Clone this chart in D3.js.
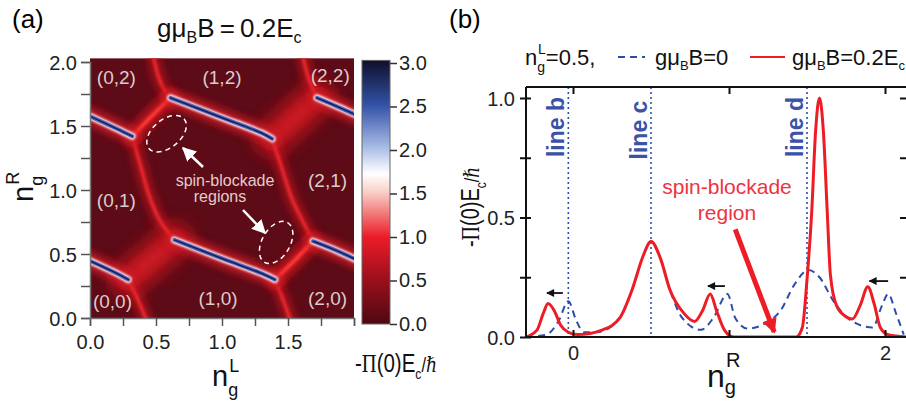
<!DOCTYPE html>
<html lang="en">
<head>
<meta charset="UTF-8">
<title>Spin blockade</title>
<script src="https://d3js.org/d3.v7.min.js"></script>
<style>
  body { margin: 0; background: #fff; }
  text { font-family: "Liberation Sans", Arial, sans-serif; }
  .serif { font-family: "Liberation Serif", "DejaVu Serif", serif; }
</style>
</head>
<body>
<svg width="906" height="401"></svg>
<script>
// ---------- panel (b) data: [n_g^R, -Pi(0)Ec/hbar] ----------
const redCurve = [
  [-0.30, 0.0], [-0.23, 0.03], [-0.19, 0.10], [-0.16, 0.14], [-0.12, 0.11], [-0.08, 0.05],
  [-0.03, 0.02], [0.03, 0.01], [0.19, 0.03], [0.30, 0.08], [0.38, 0.20], [0.45, 0.34],
  [0.50, 0.40], [0.56, 0.33], [0.62, 0.20], [0.71, 0.10], [0.78, 0.065], [0.83, 0.11],
  [0.88, 0.18], [0.92, 0.11], [0.97, 0.03], [1.03, 0.0], [1.43, 0.0], [1.47, 0.04],
  [1.50, 0.24], [1.53, 0.52], [1.555, 0.86], [1.58, 1.0], [1.605, 0.86], [1.63, 0.52],
  [1.65, 0.26], [1.69, 0.13], [1.75, 0.085], [1.79, 0.075], [1.84, 0.13], [1.89, 0.21],
  [1.93, 0.14], [1.97, 0.04], [2.02, 0.01], [2.14, 0.0]
];
const blueCurve = [
  [-0.30, 0.0], [-0.17, 0.01], [-0.09, 0.07], [-0.03, 0.15], [0.02, 0.07], [0.07, 0.02],
  [0.15, 0.02], [0.30, 0.08], [0.38, 0.20], [0.45, 0.34], [0.50, 0.40], [0.56, 0.33],
  [0.62, 0.20], [0.70, 0.08], [0.82, 0.03], [0.90, 0.08], [0.99, 0.18], [1.04, 0.08],
  [1.12, 0.035], [1.24, 0.06], [1.33, 0.11], [1.42, 0.22], [1.51, 0.28], [1.58, 0.25],
  [1.67, 0.15], [1.78, 0.07], [1.92, 0.04], [1.98, 0.13], [2.02, 0.18], [2.07, 0.10],
  [2.12, 0.01]
];
const markerLines = [["line b", -0.03], ["line c", 0.5], ["line d", 1.5]];
const shiftArrows = [[-0.065, -0.167, 0.184], [0.974, 0.865, 0.213], [2.02, 1.90, 0.234]];
const blockadeArrow = [[1.04, 0.45], [1.29, 0.02]];
const bXTicks = [0, 1, 2];
const bYTicks = [0, 0.25, 0.5, 0.75, 1];

// ---------- panel (a) data: ridges in (n_g^L, n_g^R) ----------
const blueRidges = [
  [[-0.05, 1.60], [0.20, 1.48], [0.32, 1.42]],
  [[0.61, 1.72], [1.0, 1.565], [1.30, 1.445], [1.38, 1.40]],
  [[1.72, 1.72], [1.9, 1.64], [2.05, 1.57]],
  [[-0.05, 0.47], [0.18, 0.36], [0.29, 0.30]],
  [[0.64, 0.61], [1.0, 0.465], [1.32, 0.34], [1.40, 0.30]],
  [[1.69, 0.60], [1.86, 0.53], [2.05, 0.44]]
];
const edgeRidges = [
  [[0.47, 2.1], [0.52, 1.88], [0.57, 1.77], [0.61, 1.72]],
  [[0.32, 1.42], [0.38, 1.20], [0.45, 0.95], [0.53, 0.76], [0.64, 0.61]],
  [[0.29, 0.30], [0.36, 0.15], [0.44, -0.05]],
  [[1.72, 1.72], [1.66, 1.86], [1.60, 2.1]],
  [[1.38, 1.40], [1.45, 1.18], [1.53, 0.93], [1.61, 0.76], [1.69, 0.60]],
  [[1.40, 0.30], [1.46, 0.15], [1.53, -0.05]]
];
const brightRidges = [
  [[0.32, 1.42], [0.46, 1.57], [0.61, 1.72]],
  [[1.40, 0.30], [1.55, 0.45], [1.69, 0.60]]
];
const softRidges = [
  [[1.38, 1.40], [1.55, 1.56], [1.72, 1.72]],
  [[0.29, 0.30], [0.46, 0.45], [0.64, 0.61]]
];
const chargeLabels = [
  ["(0,2)", 0.20, 1.88], ["(1,2)", 1.0, 1.88], ["(2,2)", 1.82, 1.90],
  ["(0,1)", 0.20, 0.92], ["(2,1)", 1.80, 1.08],
  ["(0,0)", 0.17, 0.13], ["(1,0)", 0.97, 0.16], ["(2,0)", 1.80, 0.16]
];
const blockadeRings = [[0.58, 1.44, -40], [1.41, 0.59, -60]];
const aTicks = [0, 0.25, 0.5, 0.75, 1, 1.25, 1.5, 1.75, 2];
const cbTicks = [0, 0.5, 1, 1.5, 2, 2.5, 3];
const cbStops = [
  [0, "#4e0812"], [0.17, "#9c0f1c"], [0.33, "#ec1c28"], [0.5, "#f8cfc6"],
  [0.57, "#ffffff"], [0.67, "#a9bce6"], [0.83, "#3352a6"], [1, "#0f0f2a"]
];

const svg = d3.select("svg");
const defs = svg.append("defs");
function blur(id, sd) {
  defs.append("filter").attr("id", id).attr("filterUnits", "userSpaceOnUse")
    .attr("x", 0).attr("y", 0).attr("width", 906).attr("height", 401)
    .append("feGaussianBlur").attr("stdDeviation", sd);
}
blur("b1", 0.8); blur("b2", 2); blur("b4", 4); blur("b8", 8);

function arrowHead(id, color, w, h) {
  defs.append("marker").attr("id", id).attr("viewBox", "0 0 10 10")
    .attr("refX", 9).attr("refY", 5).attr("markerUnits", "userSpaceOnUse")
    .attr("markerWidth", w).attr("markerHeight", h).attr("orient", "auto")
    .append("path").attr("d", "M0,0L10,5L0,10Z").attr("fill", color);
}
arrowHead("ahWhite", "#fff", 14, 14);
arrowHead("ahBlack", "#111", 9, 8);
arrowHead("ahRed", "#ee1c25", 18, 15);

// ================= panel (a) =================
const xA = d3.scaleLinear([0, 2], [90, 354]);
const yA = d3.scaleLinear([0, 2], [318, 62]);
const ridge = d3.line().x(d => xA(d[0])).y(d => yA(d[1])).curve(d3.curveCatmullRom);

defs.append("clipPath").attr("id", "clipA").append("rect")
  .attr("x", xA(0)).attr("y", yA(2.03)).attr("width", xA(2) - xA(0)).attr("height", yA(0) - yA(2.03));

const heat = svg.append("g").attr("clip-path", "url(#clipA)");
heat.append("rect").attr("x", xA(0)).attr("y", yA(2.03))
  .attr("width", xA(2) - xA(0)).attr("height", yA(0) - yA(2.03)).attr("fill", "#5c0b17");

function strokes(data, color, width, filter, opacity) {
  heat.append("g").selectAll("path").data(data).join("path")
    .attr("d", ridge).attr("fill", "none").attr("stroke", color)
    .attr("stroke-width", width).attr("stroke-linecap", "round")
    .attr("opacity", opacity === undefined ? 1 : opacity)
    .attr("filter", filter ? `url(#${filter})` : null);
}
strokes(softRidges, "#b8161f", 36, "b8", 0.95);
strokes(softRidges, "#d41f29", 14, "b4", 0.7);
strokes(edgeRidges, "#b3121e", 13, "b4", 0.75);
strokes(edgeRidges, "#e8222c", 4, "b2", 0.6);
strokes(edgeRidges, "#f32a33", 2.2, "b1");
strokes(brightRidges, "#c8161f", 16, "b4", 0.9);
strokes(brightRidges, "#ff3838", 4, "b1");
strokes(blueRidges, "#d41e28", 16, "b4", 0.9);
strokes(blueRidges, "#fbe4e6", 7, "b1");
strokes(blueRidges, "#4d68c2", 4, null);
strokes(blueRidges, "#1b1b58", 1.5, null);

heat.append("g").selectAll("text").data(chargeLabels).join("text")
  .attr("x", d => xA(d[1])).attr("y", d => yA(d[2]) + 7)
  .attr("text-anchor", "middle").attr("font-size", 19).attr("fill", "#dccbcb")
  .text(d => d[0]);

heat.append("g").selectAll("ellipse").data(blockadeRings).join("ellipse")
  .attr("cx", 0).attr("cy", 0).attr("rx", 23).attr("ry", 14)
  .attr("transform", d => `translate(${xA(d[0])},${yA(d[1])}) rotate(${d[2]})`)
  .attr("fill", "none").attr("stroke", "#fff").attr("stroke-width", 1.5)
  .attr("stroke-dasharray", "5,4");

heat.append("line").attr("x1", 203).attr("y1", 167).attr("x2", 183).attr("y2", 148)
  .attr("stroke", "#fff").attr("stroke-width", 2.5).attr("marker-end", "url(#ahWhite)");
heat.append("line").attr("x1", 243).attr("y1", 210).attr("x2", 265).attr("y2", 233)
  .attr("stroke", "#fff").attr("stroke-width", 2.5).attr("marker-end", "url(#ahWhite)");
heat.append("text").attr("x", 225).attr("y", 186).attr("text-anchor", "middle")
  .attr("font-size", 16).attr("fill", "#e2cccc").text("spin-blockade");
heat.append("text").attr("x", 220).attr("y", 202).attr("text-anchor", "middle")
  .attr("font-size", 16).attr("fill", "#e2cccc").text("regions");

// axes (a)
const fmt1 = d3.format(".1f");
const axA = svg.append("g").attr("transform", `translate(0,${yA(0)})`)
  .call(d3.axisBottom(xA).tickValues(aTicks).tickSize(8)
    .tickFormat(d => (d % 0.5 === 0 && d < 2) ? fmt1(d) : ""));
const ayA = svg.append("g").attr("transform", `translate(${xA(0)},0)`)
  .call(d3.axisLeft(yA).tickValues(aTicks).tickSize(9)
    .tickFormat(d => d % 0.5 === 0 ? fmt1(d) : ""));
[axA, ayA].forEach(g => {
  g.select(".domain").attr("stroke", "#777").attr("stroke-width", 1.5);
  g.selectAll(".tick line").attr("stroke", "#555").attr("stroke-width", 1.5);
  g.selectAll("text").attr("font-size", 20).attr("fill", "#222")
    .attr("font-family", "Liberation Sans, Arial, sans-serif");
});
axA.selectAll("text").attr("dy", "1.0em");
ayA.selectAll("text").attr("dx", "-1px").attr("dy", "0.36em");

// colorbar
const yC = d3.scaleLinear([0, 3], [324, 63]);
const grad = defs.append("linearGradient").attr("id", "cb")
  .attr("x1", 0).attr("y1", 1).attr("x2", 0).attr("y2", 0);
grad.selectAll("stop").data(cbStops).join("stop")
  .attr("offset", d => d[0]).attr("stop-color", d => d[1]);
svg.append("rect").attr("x", 362).attr("y", yC(3.03)).attr("width", 28)
  .attr("height", yC(0) - yC(3.03)).attr("fill", "url(#cb)")
  .attr("stroke", "#666").attr("stroke-width", 1);
const cAx = svg.append("g").attr("transform", "translate(390,0)")
  .call(d3.axisRight(yC).tickValues(cbTicks).tickSize(7).tickFormat(fmt1));
cAx.select(".domain").remove();
cAx.selectAll(".tick line").attr("stroke", "#333").attr("stroke-width", 1.5);
cAx.selectAll("text").attr("font-size", 20).attr("fill", "#222").attr("dx", "-1px")
  .attr("font-family", "Liberation Sans, Arial, sans-serif");

// labels (a)
svg.append("text").attr("x", 12).attr("y", 28).attr("font-size", 26).text("(a)");
const ttl = svg.append("text").attr("x", 157).attr("y", 37).attr("font-size", 26).attr("fill", "#111");
ttl.append("tspan").text("gμ");
ttl.append("tspan").attr("font-size", 16).attr("dy", 6).text("B");
ttl.append("tspan").attr("dy", -6).text("B\u2009=\u20090.2E");
ttl.append("tspan").attr("font-size", 16).attr("dy", 6).text("c");

const xl = svg.append("text").attr("x", 212).attr("y", 386).attr("font-size", 29).attr("fill", "#111");
xl.append("tspan").text("n");
xl.append("tspan").attr("font-size", 18).attr("dy", 10).text("g");
xl.append("tspan").attr("font-size", 18).attr("dx", -9).attr("dy", -24).text("L");

const yl = svg.append("text").attr("transform", "translate(33,202) rotate(-90)")
  .attr("font-size", 29).attr("fill", "#111");
yl.append("tspan").text("n");
yl.append("tspan").attr("font-size", 18).attr("dy", 10).text("g");
yl.append("tspan").attr("font-size", 18).attr("dx", -9).attr("dy", -24).text("R");

const cl = svg.append("text").attr("transform", "translate(355,372) scale(0.82,1)")
  .attr("font-size", 25).attr("fill", "#111");
cl.append("tspan").text("-");
cl.append("tspan").attr("class", "serif").text("Π");
cl.append("tspan").text("(0)E");
cl.append("tspan").attr("font-size", 15).attr("dy", 7).text("c");
cl.append("tspan").attr("dy", -7).attr("font-size", 20).text("/");
cl.append("tspan").attr("class", "serif").attr("font-style", "italic").attr("font-size", 21).text("ℏ");

// ================= panel (b) =================
const xB = d3.scaleLinear([0, 2], [573, 885]);
const yB = d3.scaleLinear([0, 1], [337, 98]);
const bL = 526, bR = 906, bT = 87;

defs.append("clipPath").attr("id", "clipB").append("rect")
  .attr("x", bL).attr("y", bT).attr("width", bR - bL).attr("height", yB(0) - bT);
const plotB = svg.append("g").attr("clip-path", "url(#clipB)");

plotB.selectAll("line.mark").data(markerLines).join("line")
  .attr("x1", d => xB(d[1])).attr("x2", d => xB(d[1]))
  .attr("y1", bT).attr("y2", yB(0))
  .attr("stroke", "#2f4fae").attr("stroke-width", 1.6).attr("stroke-dasharray", "2,3");

const curve = d3.line().x(d => xB(d[0])).y(d => yB(d[1])).curve(d3.curveMonotoneX);
plotB.append("path").datum(blueCurve).attr("d", curve).attr("fill", "none")
  .attr("stroke", "#2d4ea8").attr("stroke-width", 2).attr("stroke-dasharray", "7,5");
plotB.append("path").datum(redCurve).attr("d", curve).attr("fill", "none")
  .attr("stroke", "#ee1c25").attr("stroke-width", 3);

plotB.selectAll("line.shift").data(shiftArrows).join("line")
  .attr("x1", d => xB(d[0])).attr("x2", d => xB(d[1]))
  .attr("y1", d => yB(d[2])).attr("y2", d => yB(d[2]))
  .attr("stroke", "#111").attr("stroke-width", 1.8).attr("marker-end", "url(#ahBlack)");

plotB.append("line")
  .attr("x1", xB(blockadeArrow[0][0])).attr("y1", yB(blockadeArrow[0][1]))
  .attr("x2", xB(blockadeArrow[1][0])).attr("y2", yB(blockadeArrow[1][1]))
  .attr("stroke", "#ee1c25").attr("stroke-width", 5).attr("marker-end", "url(#ahRed)");

plotB.selectAll("text.mk").data(markerLines).join("text")
  .attr("transform", d => `translate(${xB(d[1]) - 4},${d[0] === "line c" ? 130 : 127}) rotate(-90)`)
  .attr("text-anchor", "middle").attr("font-size", 23).attr("font-weight", "bold")
  .attr("fill", "#3a52a8").text(d => d[0]);

plotB.append("text").attr("x", 727).attr("y", 194).attr("text-anchor", "middle")
  .attr("font-size", 21).attr("fill", "#ef3340").text("spin-blockade");
plotB.append("text").attr("x", 727).attr("y", 220).attr("text-anchor", "middle")
  .attr("font-size", 21).attr("fill", "#ef3340").text("region");

// frame + axes (b)
const frame = svg.append("g").attr("stroke", "#111").attr("stroke-width", 2);
frame.append("line").attr("x1", bL).attr("x2", bL).attr("y1", bT).attr("y2", yB(0) + 1);
frame.append("line").attr("x1", bL).attr("x2", bR).attr("y1", bT).attr("y2", bT);
frame.append("line").attr("x1", bL).attr("x2", bR).attr("y1", yB(0)).attr("y2", yB(0));

const bx = svg.append("g").attr("transform", `translate(0,${yB(0)})`)
  .call(d3.axisBottom(xB).tickValues(bXTicks).tickSize(-7).tickFormat(d => d === 1 ? "" : d));
const bt = svg.append("g").attr("transform", `translate(0,${bT})`)
  .call(d3.axisTop(xB).tickValues(bXTicks).tickSize(-7).tickFormat(""));
const by = svg.append("g").attr("transform", `translate(${bL},0)`)
  .call(d3.axisLeft(yB).tickValues(bYTicks).tickSize(6)
    .tickFormat(d => d % 0.5 === 0 ? fmt1(d) : ""));
const br = svg.append("g").attr("transform", `translate(${bR},0)`)
  .call(d3.axisRight(yB).tickValues(bYTicks.slice(1)).tickSize(-6).tickFormat(""));
[bx, bt, by, br].forEach(g => {
  g.select(".domain").remove();
  g.selectAll(".tick line").attr("stroke", "#111").attr("stroke-width", 2);
  g.selectAll("text").attr("font-size", 20).attr("fill", "#222")
    .attr("font-family", "Liberation Sans, Arial, sans-serif");
});
by.selectAll(".tick line").attr("x1", 5);
bx.selectAll("text").attr("dy", "1.0em");
by.selectAll("text").attr("dx", "-2px").attr("dy", "0.36em");

svg.append("text").attr("x", 449).attr("y", 28).attr("font-size", 26).text("(b)");

// legend (b)
const lg = svg.append("text").attr("x", 525).attr("y", 65).attr("font-size", 22).attr("fill", "#111");
lg.append("tspan").text("n");
lg.append("tspan").attr("font-size", 14).attr("dy", 7).text("g");
lg.append("tspan").attr("font-size", 14).attr("dx", -7).attr("dy", -18).text("L");
lg.append("tspan").attr("dy", 11).text("=0.5,");
svg.append("line").attr("x1", 618).attr("x2", 645).attr("y1", 57).attr("y2", 57)
  .attr("stroke", "#2d4ea8").attr("stroke-width", 2).attr("stroke-dasharray", "7,5");
svg.append("line").attr("x1", 750).attr("x2", 785).attr("y1", 57).attr("y2", 57)
  .attr("stroke", "#ee1c25").attr("stroke-width", 2);
function gmu(x, tail) {
  const t = svg.append("text").attr("x", x).attr("y", 65).attr("font-size", 22).attr("fill", "#111");
  t.append("tspan").text("gμ");
  t.append("tspan").attr("font-size", 13).attr("dy", 5).text("B");
  t.append("tspan").attr("dy", -5).text(tail);
  return t;
}
gmu(655, "B=0");
const g2 = gmu(792, "B=0.2E");
g2.append("tspan").attr("font-size", 13).attr("dy", 5).text("c");

// axis titles (b)
const xb = svg.append("text").attr("x", 707).attr("y", 387).attr("font-size", 32).attr("fill", "#111");
xb.append("tspan").text("n");
xb.append("tspan").attr("font-size", 20).attr("dy", 7).text("g");
xb.append("tspan").attr("font-size", 20).attr("dx", -10).attr("dy", -27).text("R");

const ybl = svg.append("text").attr("transform", "translate(479,207) rotate(-90) scale(0.8,1)")
  .attr("text-anchor", "middle").attr("font-size", 25).attr("fill", "#111");
ybl.append("tspan").text("-");
ybl.append("tspan").attr("class", "serif").text("Π");
ybl.append("tspan").text("(0)E");
ybl.append("tspan").attr("font-size", 15).attr("dy", 7).text("c");
ybl.append("tspan").attr("dy", -7).attr("font-size", 20).text("/");
ybl.append("tspan").attr("class", "serif").attr("font-style", "italic").attr("font-size", 21).text("ℏ");
</script>
</body>
</html>
